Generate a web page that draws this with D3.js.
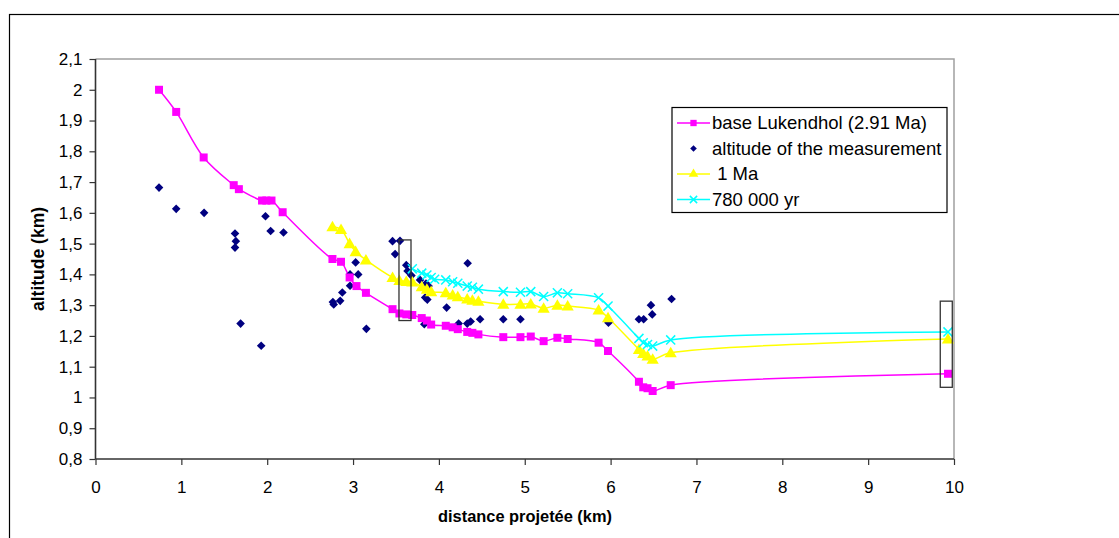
<!DOCTYPE html>
<html><head><meta charset="utf-8">
<script src="https://cdn.jsdelivr.net/npm/d3@7"></script>
<style>
html,body{margin:0;padding:0;background:#fff;}
text{font-family:"Liberation Sans",Arial,sans-serif;}
</style></head>
<body><svg id="c" width="1119" height="538"></svg>
<script>
// ---- data ----
const baseX = [0.74,0.94,1.26,1.61,1.67,1.94,1.99,2.05,2.18,2.76,2.86,2.96,3.04,3.15,3.46,3.54,3.62,3.69,3.80,3.86,3.91,4.08,4.16,4.22,4.33,4.39,4.46,4.75,4.95,5.07,5.22,5.38,5.50,5.86,5.97,6.33,6.38,6.43,6.49,6.70,9.93];
const baseY = [2.00,1.928,1.78,1.69,1.677,1.64,1.64,1.64,1.602,1.45,1.441,1.39,1.362,1.34,1.287,1.273,1.27,1.268,1.258,1.25,1.237,1.233,1.228,1.222,1.213,1.21,1.205,1.196,1.196,1.198,1.183,1.194,1.19,1.178,1.151,1.051,1.033,1.03,1.021,1.04,1.077];

const ma1X = [2.76,2.86,2.96,3.03,3.15,3.46,3.54,3.62,3.69,3.80,3.86,3.91,4.08,4.16,4.22,4.33,4.39,4.46,4.75,4.95,5.07,5.22,5.38,5.50,5.86,5.97,6.33,6.38,6.43,6.49,6.70,9.93];
const ma1Y = [1.555,1.546,1.50,1.474,1.447,1.39,1.38,1.377,1.375,1.36,1.352,1.344,1.34,1.333,1.327,1.32,1.316,1.313,1.303,1.303,1.304,1.29,1.30,1.297,1.284,1.259,1.156,1.143,1.135,1.124,1.145,1.19];

const kyrX = [3.69,3.80,3.86,3.91,3.95,4.08,4.16,4.22,4.33,4.39,4.46,4.75,4.95,5.07,5.22,5.38,5.50,5.86,5.97,6.33,6.38,6.43,6.49,6.70,9.93];
const kyrY = [1.418,1.404,1.398,1.39,1.384,1.382,1.376,1.371,1.362,1.358,1.352,1.344,1.342,1.344,1.328,1.34,1.337,1.324,1.297,1.192,1.178,1.172,1.167,1.187,1.213];

const measX = [0.74,0.94,1.265,1.625,1.635,1.625,1.69,1.93,1.98,2.04,2.19,2.765,2.775,2.85,2.875,2.965,2.965,3.03,3.06,3.155,3.46,3.49,3.547,3.62,3.635,3.68,3.78,3.85,3.88,3.84,3.865,3.83,4.09,4.23,4.335,4.33,4.37,4.48,4.75,4.95,5.975,6.33,6.385,6.47,6.485,6.71];
const measY = [1.682,1.613,1.60,1.533,1.508,1.487,1.24,1.168,1.589,1.541,1.536,1.31,1.302,1.314,1.341,1.40,1.363,1.439,1.40,1.223,1.508,1.466,1.509,1.43,1.411,1.396,1.382,1.37,1.362,1.325,1.318,1.238,1.292,1.24,1.436,1.24,1.247,1.254,1.254,1.254,1.243,1.254,1.254,1.30,1.27,1.32];

// annotation boxes [x0,x1,y0,y1] in data units
const boxes = [[3.535,3.675,1.512,1.25],[9.84,9.98,1.313,1.033]];

const xTicks = [0,1,2,3,4,5,6,7,8,9,10];
const yTicks = [0.8,0.9,1.0,1.1,1.2,1.3,1.4,1.5,1.6,1.7,1.8,1.9,2.0,2.1];
const legendLabels = ["base Lukendhol (2.91 Ma)","altitude of the measurement"," 1 Ma","780 000 yr"];
const xTitle = "distance projetée (km)";
const yTitle = "altitude (km)";

// ---- layout ----
const svg = d3.select("#c");
const L=95.5, R=954, T=59, B=459;
const x = d3.scaleLinear().domain([0,10]).range([L,R]);
const y = d3.scaleLinear().domain([0.8,2.1]).range([B,T]);

// outer chart frame
svg.append("rect").attr("x",9.5).attr("y",14.5).attr("width",1200).attr("height",600)
  .attr("fill","none").attr("stroke","#000").attr("stroke-width",1.2);

// plot border (gray top/right)
svg.append("path").attr("d",`M${L},${T}H${R}V${B}`).attr("fill","none").attr("stroke","#a0a0a0").attr("stroke-width",1.5);

// axes
const fmt = d => d3.format(".1~f")(d).replace(".",",");
const yAx = svg.append("g").attr("transform",`translate(${L},0)`)
  .call(d3.axisLeft(y).tickValues(yTicks).tickSize(6).tickPadding(7).tickFormat(fmt));
const xAx = svg.append("g").attr("transform",`translate(0,${B})`)
  .call(d3.axisBottom(x).tickValues(xTicks).tickSize(6).tickPadding(16).tickFormat(d3.format("d")));
[yAx,xAx].forEach(g=>{
  g.select(".domain").attr("stroke","#333").attr("stroke-width",1.6);
  g.selectAll(".tick line").attr("stroke","#333").attr("stroke-width",1.2);
  g.selectAll(".tick text").attr("fill","#000").style("font-size","17px").style("font-family","'Liberation Sans',Arial,sans-serif");
});
xAx.select(".domain").attr("d",`M${L},0H${R}`);
yAx.select(".domain").attr("d",`M0,${B}V${T}`);

// titles
svg.append("text").attr("x",525).attr("y",522).attr("text-anchor","middle")
  .style("font-size","16.4px").style("font-weight","bold").text(xTitle);
svg.append("text").attr("transform","translate(44,259) rotate(-90)").attr("text-anchor","middle")
  .style("font-size","17.5px").style("font-weight","bold").text(yTitle);

// series
const line = d3.line().x(d=>x(d[0])).y(d=>y(d[1])).curve(d3.curveCatmullRom.alpha(0.5));
const zip = (a,b)=>a.map((v,i)=>[v,b[i]]);
const baseD = zip(baseX,baseY), ma1D = zip(ma1X,ma1Y), kyrD = zip(kyrX,kyrY), measD = zip(measX,measY);

svg.append("path").datum(baseD).attr("d",line).attr("fill","none").attr("stroke","#FF00FF").attr("stroke-width",1.5);
svg.append("path").datum(ma1D).attr("d",line).attr("fill","none").attr("stroke","#FFFF00").attr("stroke-width",1.5);
svg.append("path").datum(kyrD).attr("d",line).attr("fill","none").attr("stroke","#00FFFF").attr("stroke-width",1.5);

const sq = d3.symbol().type(d3.symbolSquare).size(64);
const tri = d3.symbol().type(d3.symbolTriangle).size(64);
const diaPath = r => `M0,${-r}L${r},0L0,${r}L${-r},0Z`;
const crossX = d3.symbol().type(d3.symbolTimes).size(55);

svg.append("g").selectAll("path").data(measD).join("path")
  .attr("transform",d=>`translate(${x(d[0])},${y(d[1])})`).attr("d",diaPath(4.3)).attr("fill","#000080");
svg.append("g").selectAll("path").data(baseD).join("path")
  .attr("transform",d=>`translate(${x(d[0])},${y(d[1])})`).attr("d",sq).attr("fill","#FF00FF");
svg.append("g").selectAll("path").data(ma1D).join("path")
  .attr("transform",d=>`translate(${x(d[0])},${y(d[1])+1})`).attr("d",tri).attr("fill","#FFFF00");
svg.append("g").selectAll("path").data(kyrD).join("path")
  .attr("transform",d=>`translate(${x(d[0])},${y(d[1])})`).attr("d",crossX).attr("fill","none").attr("stroke","#00FFFF").attr("stroke-width",1.5);

// annotation boxes
svg.append("g").selectAll("rect").data(boxes).join("rect")
  .attr("x",d=>x(d[0])).attr("y",d=>y(d[2])).attr("width",d=>x(d[1])-x(d[0])).attr("height",d=>y(d[3])-y(d[2]))
  .attr("fill","none").attr("stroke","#333").attr("stroke-width",1.3);

// legend
const lg = svg.append("g");
lg.append("rect").attr("x",672).attr("y",107.5).attr("width",275).attr("height",105).attr("fill","#fff").attr("stroke","#000").attr("stroke-width",1.2);
const rows = [123,148.5,174,199.5];
const lcol = ["#FF00FF",null,"#FFFF00","#00FFFF"];
rows.forEach((ry,i)=>{
  if(lcol[i]) lg.append("line").attr("x1",677).attr("x2",710).attr("y1",ry).attr("y2",ry).attr("stroke",lcol[i]).attr("stroke-width",1.5);
  const p = lg.append("path").attr("transform",`translate(693.5,${ry})`).attr("d",
    i==0? d3.symbol().type(d3.symbolSquare).size(40)() :
    i==1? diaPath(3.3) :
    i==2? d3.symbol().type(d3.symbolTriangle).size(40)() : d3.symbol().type(d3.symbolTimes).size(36)());
  if(i==3) p.attr("fill","none").attr("stroke","#00FFFF").attr("stroke-width",1.5);
  else p.attr("fill", i==1?"#000080":lcol[i]);
  lg.append("text").attr("x",712).attr("y",ry).attr("dy","0.35em").style("font-size","18.5px")
    .style("white-space","pre").attr("xml:space","preserve").text(legendLabels[i]);
});
</script></body></html>
